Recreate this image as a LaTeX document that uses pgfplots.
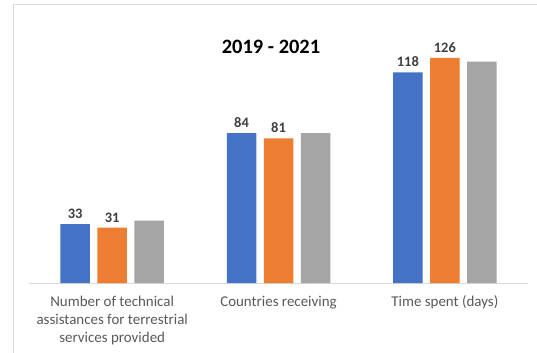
\documentclass[border=0pt]{standalone}
\usepackage{pgfplots}
\pgfplotsset{compat=1.18}
\usepackage{fontspec}
\setmainfont{Carlito}
\definecolor{cblue}{HTML}{4472C4}
\definecolor{corange}{HTML}{ED7D31}
\definecolor{cgray}{HTML}{A5A5A5}
\definecolor{ctext}{HTML}{595959}
\definecolor{clabel}{HTML}{404040}
\definecolor{cborder}{HTML}{D9D9D9}
\begin{document}
\begin{tikzpicture}[x=1bp,y=1bp]
\useasboundingbox (0,0) rectangle (537,352);
\fill[white] (0,0) rectangle (537,352);
\draw[cborder,line width=1bp] (13,-2) -- (13,347) -- (540,347);
\begin{axis}[
  at={(29bp,69bp)}, anchor=south west,
  scale only axis, width=499bp, height=250bp,
  xmin=-0.5, xmax=2.5, ymin=0, ymax=140,
  ybar=7.5bp, bar width=29.5bp,
  /pgf/number format/assume math mode=true,
  axis y line=none,
  axis x line*=bottom,
  x axis line style={draw=cborder,line width=1bp,-},
  xtick={0,1,2}, xtick style={draw=none},
  xticklabels={{Number of technical\\assistances for terrestrial\\services provided},{Countries receiving},{Time spent (days)}},
  xticklabel style={align=center,text=ctext,font=\fontsize{15}{18}\selectfont,yshift=-5bp},
  nodes near coords style={font=\bfseries\fontsize{14.5}{16}\selectfont,text=clabel,yshift=2bp},
  clip=false,
]
\addplot[fill=cblue,draw=none,nodes near coords] coordinates {(0,33) (1,84) (2,118)};
\addplot[fill=corange,draw=none,nodes near coords] coordinates {(0,31) (1,81) (2,126)};
\addplot[fill=cgray,draw=none] coordinates {(0,35) (1,84) (2,124)};
\end{axis}
\node[font=\bfseries\fontsize{20.5}{22}\selectfont,text=black] at (271,305) {2019 - 2021};
\end{tikzpicture}
\end{document}
